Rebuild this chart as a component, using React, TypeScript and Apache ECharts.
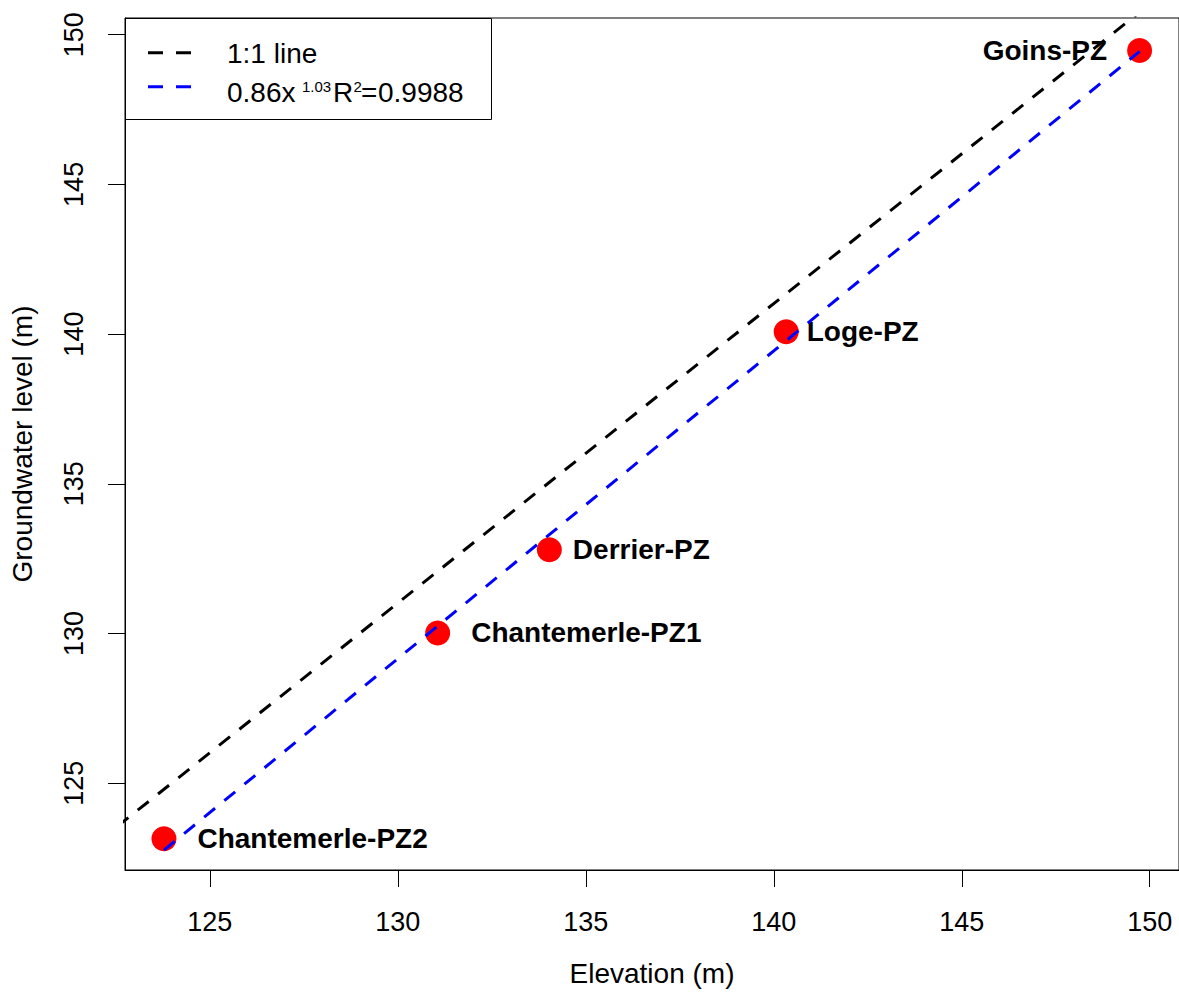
import React, { useEffect, useRef } from "react";
import * as echarts from "echarts";

const siteNames = ["Chantemerle-PZ2", "Chantemerle-PZ1", "Derrier-PZ", "Loge-PZ", "Goins-PZ"];
const elevation = [123.78, 131.06, 134.03, 140.33, 149.73];
const groundwater = [123.15, 130.02, 132.8, 140.08, 149.47];

// Fitted power curve 0.86x^1.03 (end points)
const fitX = [123.78, 149.73];
const fitY = [122.77, 149.44];

// Reference "1:1 line" as drawn in the picture (clipped by the plot box)
const refX = [122, 151];
const refY = [123.02, 152.02];

const xTicks = [125, 130, 135, 140, 145, 150];
const yTicks = [125, 130, 135, 140, 145, 150];

// label placement (style)
const labelSide = ["right", "right", "right", "right", "left"];
const labelGap = [21, 21, 11, 8, 20];

const FONT = "'Liberation Sans', Arial, Helvetica, sans-serif";

export default function App() {
  const ref = useRef<HTMLDivElement>(null);
  useEffect(() => {
    document.body.style.margin = "0";
    const chart = echarts.init(ref.current as HTMLDivElement, null, { renderer: "svg" });
    const scatterData = elevation.map((x, i) => ({
      value: [x, groundwater[i]],
      name: siteNames[i],
      label: {
        show: true,
        position: labelSide[i],
        distance: labelGap[i],
        formatter: siteNames[i],
        color: "#000",
        opacity: 1,
      },
    }));
    const axisCommon = {
      type: "value" as const,
      axisLine: { show: true, onZero: false, lineStyle: { color: "#000", width: 1 } },
      splitLine: { show: false },
      nameLocation: "middle" as const,
      nameGap: 89,
      nameTextStyle: { fontSize: 28, color: "#000", fontFamily: FONT },
    };
    const txt = (text: string, x: number, y: number, size: number, align = "left") => ({
      type: "text",
      x,
      y,
      style: { text, fontSize: size, fill: "#000", fontFamily: FONT, verticalAlign: "middle", align },
    });
    chart.setOption({
      animation: false,
      backgroundColor: "#fff",
      grid: {
        left: 125,
        top: 18,
        width: 1056,
        height: 855,
        show: true,
        borderColor: "#000",
        borderWidth: 1,
        backgroundColor: "transparent",
      },
      xAxis: {
        ...axisCommon,
        min: 122.7435,
        max: 150.778,
        name: "Elevation (m)",
        axisTick: { show: true, length: 17, lineStyle: { color: "#000", width: 1 }, customValues: xTicks },
        axisLabel: { customValues: xTicks, fontSize: 27, color: "#000", margin: 38, fontFamily: FONT },
      },
      yAxis: {
        ...axisCommon,
        min: 122.105,
        max: 150.5557,
        name: "Groundwater level (m)",
        nameRotate: 90,
        axisTick: { show: true, length: 17, lineStyle: { color: "#000", width: 1 }, customValues: yTicks },
        axisLabel: { customValues: yTicks, fontSize: 27, color: "#000", margin: 38, rotate: 90, fontFamily: FONT },
      },
      series: [
        {
          type: "scatter",
          z: 2,
          symbol: "circle",
          symbolSize: 25,
          itemStyle: { color: "#ff0000", opacity: 1 },
          emphasis: { disabled: true },
          label: { color: "#000", opacity: 1, fontSize: 28, fontWeight: "bold", fontFamily: FONT },
          data: scatterData,
        },
        {
          type: "line",
          z: 3,
          symbol: "none",
          clip: true,
          lineStyle: { color: "#000", width: 3, type: [14, 12], opacity: 1 },
          data: refX.map((x, i) => [x, refY[i]]),
        },
        {
          type: "line",
          z: 3,
          symbol: "none",
          clip: true,
          lineStyle: { color: "#0000ff", width: 3, type: [14, 12], opacity: 1 },
          data: fitX.map((x, i) => [x, fitY[i]]),
        },
      ],
      graphic: [
        {
          type: "group",
          z: 100,
          children: [
            {
              type: "rect",
              shape: { x: 125.5, y: 18.5, width: 366, height: 101 },
              style: { fill: "#fff", stroke: "#000", lineWidth: 1 },
            },
            {
              type: "line",
              shape: { x1: 148, y1: 52.7, x2: 192, y2: 52.7 },
              style: { stroke: "#000", lineWidth: 3, lineDash: [15, 13] },
            },
            {
              type: "line",
              shape: { x1: 148, y1: 86.7, x2: 192, y2: 86.7 },
              style: { stroke: "#0000ff", lineWidth: 3, lineDash: [15, 13] },
            },
            txt("1:1 line", 227, 53, 28),
            txt("0.86x", 227, 92, 28),
            txt("1.03", 302, 86, 15),
            txt("R", 333, 92, 28),
            txt("2", 353.5, 86, 15),
            txt("=", 361, 92, 28),
            txt("0.9988", 378, 92, 28),
          ],
        },
      ],
    });
    return () => chart.dispose();
  }, []);
  return (
    <div
      ref={ref}
      style={{ position: "fixed", left: 0, top: 0, width: 1179, height: 992 }}
    />
  );
}
